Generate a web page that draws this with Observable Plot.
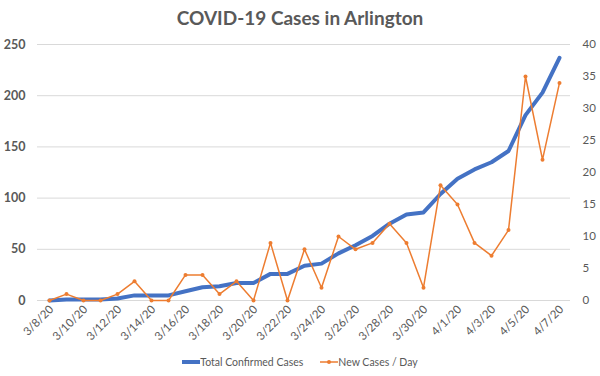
<!DOCTYPE html>
<html>
<head>
<meta charset="utf-8">
<script src="https://cdn.jsdelivr.net/npm/d3@7"></script>
<script src="https://cdn.jsdelivr.net/npm/@observablehq/plot@0.6"></script>
<style>
  body { margin: 0; background: #fff; font-family: Lato, "Open Sans", sans-serif; }
  #title { height: 32px; line-height: 36px; text-align: center; font-size: 19px; font-weight: bold; color: #595959; }
  #legend { height: 24px; display: flex; justify-content: center; align-items: center; gap: 17px; font-size: 10.5px; color: #595959; margin-top: 2px; }
  #legend span { display: inline-flex; align-items: center; }
  svg { display: block; }
</style>
</head>
<body>
<div id="title">COVID-19 Cases in Arlington</div>
<div id="chart"></div>
<div id="legend">
  <span><svg width="18" height="8"><line x1="0" x2="18" y1="4" y2="4" stroke="#4472C4" stroke-width="4"/></svg>Total Confirmed Cases</span>
  <span><svg width="18" height="8"><line x1="0" x2="18" y1="4" y2="4" stroke="#ED7D31" stroke-width="1.5"/><circle cx="9" cy="4" r="2" fill="#ED7D31"/></svg>New Cases / Day</span>
</div>
<script>
const dates = ["3/8/20","3/9/20","3/10/20","3/11/20","3/12/20","3/13/20","3/14/20","3/15/20","3/16/20","3/17/20","3/18/20","3/19/20","3/20/20","3/21/20","3/22/20","3/23/20","3/24/20","3/25/20","3/26/20","3/27/20","3/28/20","3/29/20","3/30/20","3/31/20","4/1/20","4/2/20","4/3/20","4/4/20","4/5/20","4/6/20","4/7/20"];
const totalCases = [0,1,1,1,2,5,5,5,9,13,14,17,17,26,26,34,36,46,54,63,75,84,86,104,119,128,135,146,181,203,237];
const newCases = [0,1,0,0,1,3,0,0,4,4,1,3,0,9,0,8,2,10,8,9,12,9,2,18,15,9,7,11,35,22,34];
const leftTicks = [0,50,100,150,200,250];
const rightTicks = [0,5,10,15,20,25,30,35,40];
const xTickLabels = dates.filter((d,i) => i % 2 === 0);
const ratio = 250 / 40;

const data = dates.map((d,i) => ({date: d, total: totalCases[i], daily: newCases[i]}));

const chart = Plot.plot({
  width: 600,
  height: 316,
  marginTop: 12,
  marginLeft: 37,
  marginRight: 30,
  marginBottom: 48,
  style: {fontFamily: "Lato, 'Open Sans', sans-serif", color: "#595959", background: "#fff"},
  x: {type: "point", domain: dates, padding: 0.5},
  y: {domain: [0, 250]},
  marks: [
    Plot.gridY(leftTicks, {stroke: "#d9d9d9", strokeOpacity: 1, strokeWidth: 1}),
    Plot.axisY(leftTicks, {tickSize: 0, tickPadding: 12, fontSize: 12.5, fontWeight: "bold", fill: "#595959", label: null}),
    Plot.axisY(rightTicks.map(v => v * ratio), {anchor: "right", tickFormat: d => String(Math.round(d / ratio)), tickSize: 0, tickPadding: 12, fontSize: 11.5, fill: "#595959", label: null}),
    Plot.axisX(xTickLabels, {tickRotate: -45, tickSize: 0, tickPadding: 7, dx: 2, fontSize: 11.5, fill: "#595959", label: null}),
    Plot.line(data, {x: "date", y: "total", stroke: "#4472C4", strokeWidth: 4, strokeLinejoin: "round", strokeLinecap: "round"}),
    Plot.line(data, {x: "date", y: d => d.daily * ratio, stroke: "#ED7D31", strokeWidth: 1.5}),
    Plot.dot(data, {x: "date", y: d => d.daily * ratio, r: 2, fill: "#ED7D31", stroke: "none"})
  ]
});
document.getElementById("chart").appendChild(chart);
</script>
</body>
</html>
